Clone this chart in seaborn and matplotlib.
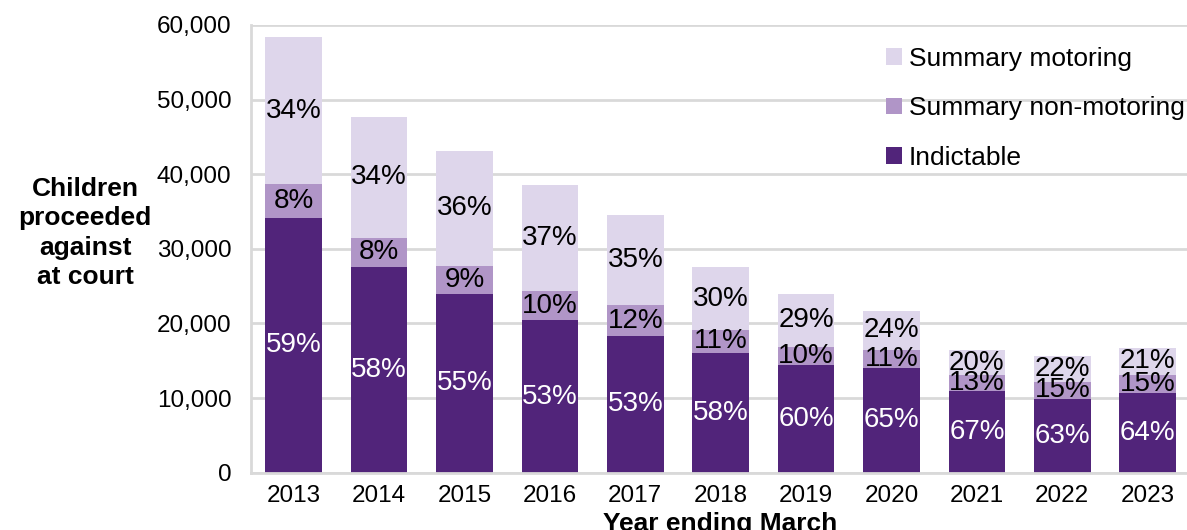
import matplotlib
matplotlib.use("Agg")
import matplotlib.pyplot as plt
import seaborn as sns
import pandas as pd
import numpy as np
from matplotlib.patches import Patch

# Children proceeded against at court, by offence group
years = ["2013", "2014", "2015", "2016", "2017", "2018",
         "2019", "2020", "2021", "2022", "2023"]
indictable = [34170, 27600, 23900, 20400, 18300, 16000,
              14450, 14060, 10980, 9830, 10650]
summary_non_motoring = [4520, 3890, 3835, 3900, 4100, 3150,
                        2450, 2410, 2100, 2370, 2500]
summary_motoring = [19660, 16180, 15375, 14250, 12100, 8350,
                    7000, 5230, 3350, 3400, 3500]

series_names = ["Summary motoring", "Summary non-motoring", "Indictable"]
colors = {"Indictable": "#51247A",
          "Summary non-motoring": "#B095C7",
          "Summary motoring": "#DED6EB"}

df = pd.DataFrame({
    "year": years,
    "Indictable": indictable,
    "Summary non-motoring": summary_non_motoring,
    "Summary motoring": summary_motoring,
})
df["lvl1"] = df["Indictable"]
df["lvl2"] = df["lvl1"] + df["Summary non-motoring"]
df["lvl3"] = df["lvl2"] + df["Summary motoring"]
df["total"] = df["lvl3"]

sns.set_theme(style="white")
plt.rcParams["font.family"] = ["Liberation Sans", "DejaVu Sans"]
plt.rcParams["text.color"] = "black"
plt.rcParams["axes.labelcolor"] = "black"

fig = plt.figure(figsize=(11.87, 5.30), dpi=100)
ax = fig.add_axes([251 / 1187, 1 - 472.6 / 530, 939.4 / 1187, (472.6 - 25) / 530])

grid_c = "#D9D9D9"
ax.set_axisbelow(True)
ax.yaxis.grid(True, color=grid_c, linewidth=2)

bar_w = 0.664
# stacked bars drawn back to front from cumulative totals
for col, name in [("lvl3", "Summary motoring"),
                  ("lvl2", "Summary non-motoring"),
                  ("lvl1", "Indictable")]:
    sns.barplot(data=df, x="year", y=col, color=colors[name], width=bar_w,
                saturation=1, ax=ax, edgecolor="none", linewidth=0)

ax.set_xlim(-0.5, len(years) - 0.5)
ax.set_ylim(0, 60000)
ax.set_yticks(np.arange(0, 60001, 10000))
ax.set_yticklabels([f"{v:,}" for v in range(0, 60001, 10000)])
ax.tick_params(axis="y", length=0, pad=14, labelsize=17.5, colors="black")
ax.tick_params(axis="x", length=0, pad=9, labelsize=17.5, colors="black")
ax.set_xlabel("")
ax.set_ylabel("")

for side in ["top", "right"]:
    ax.spines[side].set_visible(False)
for side in ["left", "bottom"]:
    ax.spines[side].set_color(grid_c)
    ax.spines[side].set_linewidth(2)

# percentage labels in the middle of each segment
for i, row in df.iterrows():
    tot = row["total"]
    segs = [("Indictable", 0, row["lvl1"], "white"),
            ("Summary non-motoring", row["lvl1"], row["lvl2"], "black"),
            ("Summary motoring", row["lvl2"], row["lvl3"], "black")]
    for name, lo, hi, tc in segs:
        pct = (hi - lo) / tot * 100
        ax.text(i, (lo + hi) / 2, f"{pct:.0f}%", ha="center", va="center",
                fontsize=20, color=tc)

handles = [Patch(facecolor=colors[n], edgecolor="none") for n in series_names]
leg = ax.legend(handles, series_names, loc="upper right",
                bbox_to_anchor=(1.005, 0.975), frameon=False, fontsize=19,
                handlelength=0.6, handleheight=0.6, handletextpad=0.25,
                labelspacing=0.97, borderaxespad=0)
for t in leg.get_texts():
    t.set_color("black")

fig.text(85 / 1187, 1 - 233 / 530, "Children\nproceeded\nagainst\nat court",
         ha="center", va="center", fontsize=19, fontweight="bold",
         linespacing=1.28, color="black")
fig.text(720 / 1187, 1 - 524 / 530, "Year ending March", ha="center",
         va="center", fontsize=19, fontweight="bold", color="black")

fig.savefig("out.png", dpi=100)
